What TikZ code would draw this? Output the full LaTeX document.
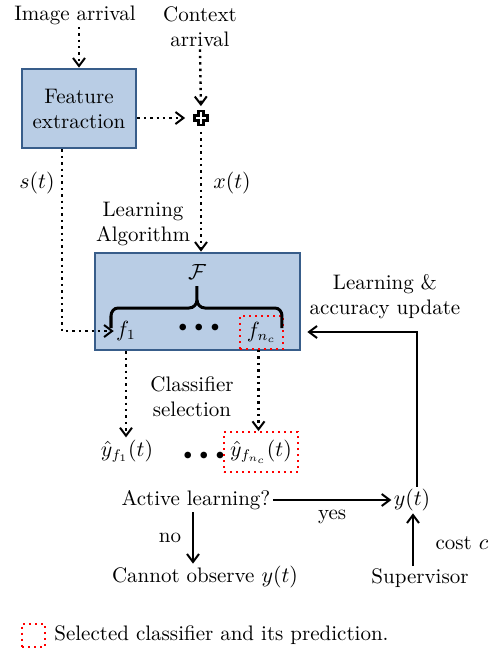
\documentclass[tikz,border=0pt]{standalone}
\usepackage{amsmath}
\usepackage{amssymb}
\usepackage{tikz}
\usepackage{xcolor}
\usetikzlibrary{arrows.meta,calc}
\definecolor{boxfill}{RGB}{185,205,229}
\definecolor{boxline}{RGB}{56,93,138}

\begin{document}
\begin{tikzpicture}[x=0.5pt,y=-0.5pt,
    font=\fontsize{10.5}{12.5}\selectfont,
    >={Straight Barb[length=4pt,width=6pt,line width=1pt]},
    txt/.style={inner sep=1pt,align=center},
    block/.style={draw=boxline,fill=boxfill,line width=1.4pt,inner sep=0pt},
    selbox/.style={draw=red,dotted,line width=1pt,inner sep=0pt},
    dotarr/.style={->,dotted,line width=1.2pt},
    solidarr/.style={->,line width=1.2pt},
    bigdots/.style={inner sep=1pt,font=\footnotesize}]
    \useasboundingbox (0,0) rectangle (493,650);
    \node[txt] (img) at (75,15) {Image arrival};
    \node[txt] (ctx) at (200,27) {Context\\arrival};
    \node[block,minimum width=57pt,minimum height=39.5pt,align=center] (feat) at (79,108.5) {Feature\\extraction};
    \node[inner sep=0pt,minimum size=7.5pt] (plus) at (201,118) {};
    \draw[line width=1.1pt,fill=white,shift={(plus.center)}] (-2.5,-7)--(2.5,-7)--(2.5,-2.5)--(6.5,-2.5)--(6.5,2.5)--(2.5,2.5)--(2.5,7)--(-2.5,7)--(-2.5,2.5)--(-6.5,2.5)--(-6.5,-2.5)--(-2.5,-2.5)--cycle;
    \node[txt] (alg) at (143,224) {Learning\\Algorithm};
    \node[block,minimum width=102.5pt,minimum height=48.5pt] (learn) at (197.5,301.5) {};
    \node[txt] (fam) at (197,272) {$\mathcal{F}$};
    \node[txt] (f1) at (126,331) {$f_1$};
    \node[bigdots] (fdots) at (199,328) {$\bullet\mkern4mu\bullet\mkern4mu\bullet$};
    \node[selbox,minimum width=21.5pt,minimum height=16.5pt] (fn) at (261.5,332.5) {$f_{n_c}$};
    \draw[line width=1.5pt] (111,328) -- (111,316) to[out=90,in=180] (118,308) -- (189,308) to[out=0,in=-90] (197,300) -- (197,286);
    \draw[line width=1.5pt] (197,300) to[out=-90,in=180] (205,308) -- (275,308) to[out=0,in=90] (282,316) -- (282,328);
    \node[txt] (st) at (37,183) {$s(t)$};
    \node[txt] (xt) at (232,183) {$x(t)$};
    \node[txt] (sel) at (192,397) {Classifier\\selection};
    \node[txt] (yf1) at (127,451) {$\hat{y}_{f_1}(t)$};
    \node[bigdots] (ydots) at (204,456) {$\bullet\mkern4mu\bullet\mkern4mu\bullet$};
    \node[selbox,minimum width=37pt,minimum height=20pt] (yfn) at (261,452) {$\hat{y}_{f_{n_c}}(t)$};
    \node[txt] (al) at (196,500) {Active learning?};
    \node[txt] (yt) at (412,500) {$y(t)$};
    \node[txt] (cno) at (205,577) {Cannot observe $y(t)$};
    \node[txt] (supv) at (420,578) {Supervisor};
    \node[txt] (upd) at (385,297) {Learning \&\\accuracy update};
    \node[txt] (cost) at (462,543) {cost $c$};
    \coordinate (fb) at (417,332);
    \draw[dotarr] (feat.north |- img.south) -- (feat.north);
    \draw[dotarr,shorten >=2pt] (ctx.south) -- (plus.north);
    \draw[dotarr,shorten >=4pt] (feat.east |- plus) -- (plus.west);
    \draw[dotarr,shorten <=3pt] (plus.south) -- (plus.south |- learn.north);
    \draw[dotarr] ([xshift=-8.5pt]feat.south) |- (f1.west);
    \draw[dotarr] (f1 |- learn.south) -- (f1 |- yf1.north);
    \draw[dotarr] ([xshift=-1.5pt]fn.south) -- ([xshift=-1.5pt]fn.south |- yfn.north);
    \draw[solidarr] (al.east) -- node[below=1pt]{yes} (yt.west);
    \draw[solidarr] ([xshift=-1.5pt]al.south) -- ([xshift=-1.5pt]al.south |- cno.north) node[midway,left=2pt]{no};
    \draw[solidarr] ([xshift=0.5pt]supv.north -| yt) -- ([xshift=0.5pt]yt.south);
    \draw[solidarr] ([xshift=2.5pt]yt.north) -- ([xshift=2.5pt]yt.north |- fb) -- ([xshift=3pt]learn.east |- fb);
    \node[selbox,minimum size=11.5pt] (key) at (33.5,635) {};
    \node[txt,anchor=west] (keytxt) at (52,635) {Selected classifier and its prediction.};
\end{tikzpicture}
\end{document}
